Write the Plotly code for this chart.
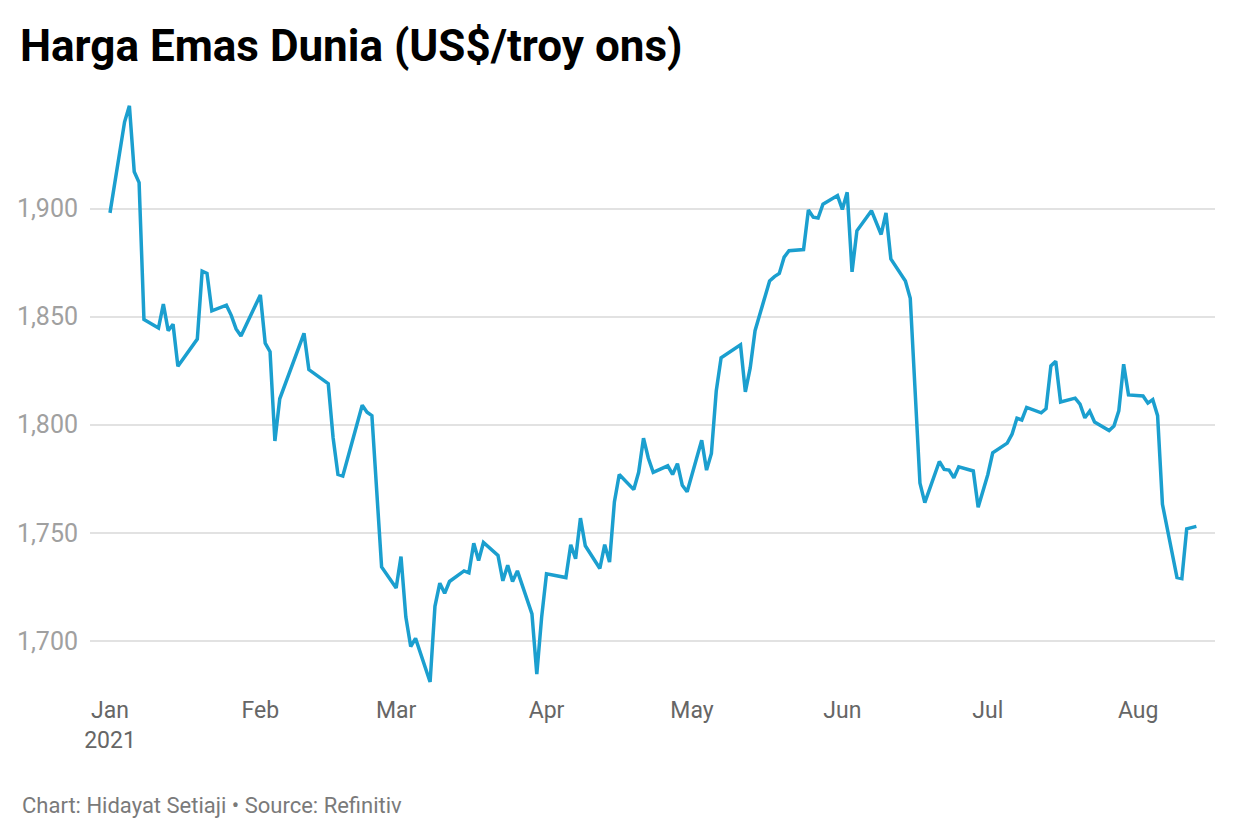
import plotly.graph_objects as go
import pandas as pd

dates = [
    "2021-01-01", "2021-01-04", "2021-01-05", "2021-01-06", "2021-01-07", "2021-01-08",
    "2021-01-11", "2021-01-12", "2021-01-13", "2021-01-14", "2021-01-15",
    "2021-01-19", "2021-01-20", "2021-01-21", "2021-01-22",
    "2021-01-25", "2021-01-26", "2021-01-27", "2021-01-28",
    "2021-02-01", "2021-02-02", "2021-02-03", "2021-02-04", "2021-02-05",
    "2021-02-10", "2021-02-11",
    "2021-02-15", "2021-02-16", "2021-02-17", "2021-02-18",
    "2021-02-22", "2021-02-23", "2021-02-24", "2021-02-26",
    "2021-03-01", "2021-03-02", "2021-03-03", "2021-03-04", "2021-03-05",
    "2021-03-08", "2021-03-09", "2021-03-10", "2021-03-11", "2021-03-12",
    "2021-03-15", "2021-03-16", "2021-03-17", "2021-03-18", "2021-03-19",
    "2021-03-22", "2021-03-23", "2021-03-24", "2021-03-25", "2021-03-26",
    "2021-03-29", "2021-03-30", "2021-03-31", "2021-04-01",
    "2021-04-05", "2021-04-06", "2021-04-07", "2021-04-08", "2021-04-09",
    "2021-04-12", "2021-04-13", "2021-04-14", "2021-04-15", "2021-04-16",
    "2021-04-19", "2021-04-20", "2021-04-21", "2021-04-22", "2021-04-23",
    "2021-04-26", "2021-04-27", "2021-04-28", "2021-04-29", "2021-04-30",
    "2021-05-03", "2021-05-04", "2021-05-05", "2021-05-06", "2021-05-07",
    "2021-05-11", "2021-05-12", "2021-05-13", "2021-05-14",
    "2021-05-17", "2021-05-18", "2021-05-19", "2021-05-20", "2021-05-21",
    "2021-05-24", "2021-05-25", "2021-05-26", "2021-05-27", "2021-05-28",
    "2021-05-31", "2021-06-01", "2021-06-02", "2021-06-03", "2021-06-04",
    "2021-06-07", "2021-06-08", "2021-06-09", "2021-06-10", "2021-06-11",
    "2021-06-14", "2021-06-15", "2021-06-17", "2021-06-18",
    "2021-06-21", "2021-06-22", "2021-06-23", "2021-06-24", "2021-06-25",
    "2021-06-28", "2021-06-29", "2021-06-30", "2021-07-01", "2021-07-02",
    "2021-07-05", "2021-07-06", "2021-07-07", "2021-07-08", "2021-07-09",
    "2021-07-12", "2021-07-13", "2021-07-14", "2021-07-15", "2021-07-16",
    "2021-07-19", "2021-07-20", "2021-07-21", "2021-07-22", "2021-07-23",
    "2021-07-26", "2021-07-27", "2021-07-28", "2021-07-29", "2021-07-30",
    "2021-08-02", "2021-08-03", "2021-08-04", "2021-08-05", "2021-08-06",
    "2021-08-09", "2021-08-10", "2021-08-11", "2021-08-12", "2021-08-13",
]

prices = [
    1898.0, 1940.0, 1947.5, 1917.0, 1912.0, 1848.7,
    1844.7, 1855.8, 1843.5, 1846.5, 1827.0,
    1839.6, 1871.0, 1870.0, 1852.7,
    1855.3, 1850.6, 1844.3, 1841.0,
    1860.0, 1837.7, 1833.8, 1792.5, 1812.0,
    1842.3, 1825.5,
    1819.0, 1794.0, 1777.0, 1776.3,
    1809.0, 1805.8, 1804.2, 1734.2,
    1724.5, 1739.0, 1711.0, 1697.4, 1701.2,
    1681.0, 1716.0, 1726.7, 1722.0, 1727.5,
    1732.4, 1731.5, 1745.2, 1737.2, 1745.5,
    1739.5, 1727.8, 1735.0, 1727.5, 1732.4,
    1712.5, 1684.6, 1711.0, 1731.0,
    1729.3, 1744.5, 1738.0, 1756.8, 1744.0,
    1733.5, 1744.5, 1736.5, 1764.3, 1777.0,
    1770.0, 1778.0, 1793.8, 1784.5, 1778.0,
    1781.0, 1777.0, 1782.0, 1772.0, 1769.0,
    1792.8, 1779.0, 1786.7, 1815.6, 1831.0,
    1837.0, 1815.2, 1826.3, 1843.5,
    1866.5, 1868.5, 1870.0, 1877.5, 1880.5,
    1881.0, 1899.3, 1896.0, 1895.6, 1902.0,
    1906.0, 1899.6, 1907.5, 1870.7, 1889.7,
    1899.0, 1893.7, 1888.0, 1898.0, 1876.7,
    1866.5, 1858.5, 1773.0, 1764.0,
    1783.0, 1779.3, 1779.0, 1775.5, 1780.5,
    1778.6, 1761.8, 1769.5, 1777.0, 1787.0,
    1791.5, 1795.7, 1803.0, 1802.2, 1808.0,
    1805.5, 1807.4, 1827.2, 1829.4, 1810.5,
    1812.3, 1809.5, 1803.2, 1806.3, 1801.3,
    1797.3, 1799.4, 1806.4, 1828.0, 1813.8,
    1813.3, 1810.0, 1811.6, 1804.2, 1763.2,
    1729.3, 1728.8, 1751.8, 1752.5, 1753.0,
]

tick_dates = ["2021-01-01", "2021-02-01", "2021-03-01", "2021-04-01",
              "2021-05-01", "2021-06-01", "2021-07-01", "2021-08-01"]
tick_labels = ["Jan<br>2021", "Feb", "Mar", "Apr", "May", "Jun", "Jul", "Aug"]
y_ticks = [1700, 1750, 1800, 1850, 1900]

W, H = 1240, 840
ML, MR, MT, MB = 90, 25, 100, 150
plot_w = W - ML - MR
plot_h = H - MT - MB
px_per_day = 4.85
x_start = pd.Timestamp("2021-01-01") - pd.Timedelta(days=20 / px_per_day)
x_end = x_start + pd.Timedelta(days=plot_w / px_per_day)

fig = go.Figure()
fig.add_trace(go.Scatter(
    x=pd.to_datetime(dates), y=prices, mode="lines",
    line=dict(color="#1b9fcf", width=3.5),
    hoverinfo="x+y", showlegend=False,
))

fig.update_layout(
    width=W, height=H,
    margin=dict(l=ML, r=MR, t=MT, b=MB),
    paper_bgcolor="white", plot_bgcolor="white",
    font=dict(family="Roboto", color="#666666"),
    title=dict(
        text="Harga Emas Dunia (US$/troy ons)",
        font=dict(family="Roboto", size=44, color="#000000", weight=700),
        x=20 / W, xanchor="left", xref="container",
        y=1 - 46 / H, yanchor="middle", yref="container",
    ),
    xaxis=dict(
        range=[x_start, x_end],
        tickvals=pd.to_datetime(tick_dates), ticktext=tick_labels,
        showgrid=False, zeroline=False, showline=False, ticks="",
        ticklabelstandoff=4,
        tickfont=dict(family="Roboto", size=23, color="#666666"),
    ),
    yaxis=dict(
        range=[1677.3, 1950.2],
        tickvals=y_ticks, tickformat=",",
        showgrid=True, gridcolor="#e2e2e2", gridwidth=1.5,
        zeroline=False, showline=False, ticks="",
        ticklabelstandoff=11,
        tickfont=dict(family="Roboto", size=25, color="#a0a0a0"),
    ),
    annotations=[dict(
        text="Chart: Hidayat Setiaji \u2022 Source: Refinitiv",
        xref="paper", yref="paper",
        x=-(ML - 20) / plot_w, y=(690 - 805) / plot_h,
        xanchor="left", yanchor="middle", showarrow=False,
        font=dict(family="Roboto", size=22, color="#7a7a7a"),
    )],
)

fig.write_html("out.html")
